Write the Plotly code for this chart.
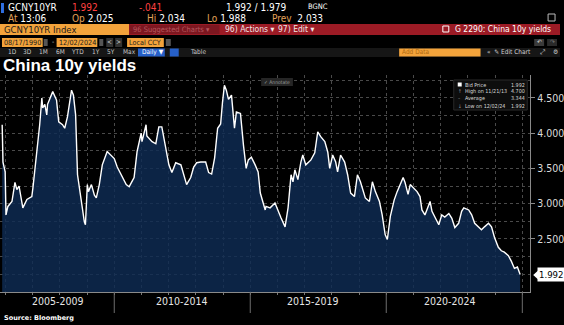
import plotly.graph_objects as go
import pandas as pd

# ---------------- data ----------------
decimal_years = [
    2005.88, 2005.91, 2005.99, 2006.02, 2006.09, 2006.24, 2006.35, 2006.42, 2006.50, 2006.61,
    2006.64, 2006.79, 2006.97, 2007.01, 2007.15, 2007.26, 2007.34, 2007.37, 2007.45, 2007.52,
    2007.55, 2007.70, 2007.74, 2007.88, 2007.96, 2008.10, 2008.18, 2008.28, 2008.36, 2008.43,
    2008.50, 2008.58, 2008.65, 2008.72, 2008.83, 2008.90, 2008.94, 2009.01, 2009.05, 2009.16,
    2009.27, 2009.34, 2009.45, 2009.56, 2009.74, 2009.89, 2010.00, 2010.11, 2010.26, 2010.44,
    2010.55, 2010.73, 2010.84, 2010.99, 2011.02, 2011.17, 2011.20, 2011.39, 2011.53, 2011.64,
    2011.75, 2011.83, 2011.90, 2012.01, 2012.12, 2012.26, 2012.45, 2012.55, 2012.66, 2012.81,
    2012.92, 2013.03, 2013.18, 2013.36, 2013.47, 2013.58, 2013.69, 2013.80, 2013.91, 2013.98,
    2014.05, 2014.12, 2014.20, 2014.31, 2014.42, 2014.49, 2014.64, 2014.75, 2014.85, 2014.93,
    2015.04, 2015.18, 2015.29, 2015.37, 2015.44, 2015.55, 2015.58, 2015.73, 2015.91, 2016.02,
    2016.13, 2016.28, 2016.39, 2016.50, 2016.57, 2016.64, 2016.75, 2016.86, 2016.93, 2017.04,
    2017.23, 2017.37, 2017.48, 2017.59, 2017.74, 2017.85, 2017.92, 2018.03, 2018.14, 2018.21,
    2018.32, 2018.47, 2018.58, 2018.69, 2018.83, 2018.94, 2019.05, 2019.23, 2019.38, 2019.49,
    2019.60, 2019.75, 2019.85, 2019.96, 2020.04, 2020.15, 2020.29, 2020.40, 2020.51, 2020.62,
    2020.69, 2020.80, 2020.88, 2021.02, 2021.13, 2021.24, 2021.31, 2021.42, 2021.61, 2021.68,
    2021.79, 2021.93, 2022.04, 2022.15, 2022.30, 2022.41, 2022.52, 2022.66, 2022.77, 2022.85,
    2023.03, 2023.14, 2023.25, 2023.39, 2023.50, 2023.61, 2023.76, 2023.87, 2023.98, 2024.12,
    2024.23, 2024.34, 2024.49, 2024.60, 2024.71, 2024.82, 2024.89, 2024.92,
]
yields = [
    4.12, 3.59, 3.45, 2.84, 2.96, 3.03, 3.30, 3.20, 3.25, 3.03,
    2.94, 3.06, 3.10, 3.22, 3.69, 4.12, 4.50, 4.36, 4.41, 4.26,
    4.41, 4.57, 4.59, 4.47, 4.16, 4.12, 4.07, 4.23, 4.44, 4.61,
    4.54, 4.26, 3.41, 3.22, 2.94, 2.74, 2.70, 3.27, 3.17, 3.27,
    3.12, 3.08, 3.27, 3.55, 3.74, 3.69, 3.64, 3.52, 3.41, 3.27,
    3.24, 3.37, 3.74, 4.00, 3.88, 4.12, 3.96, 3.88, 3.85, 4.09,
    4.09, 3.93, 3.74, 3.55, 3.44, 3.58, 3.55, 3.41, 3.27, 3.37,
    3.52, 3.58, 3.59, 3.59, 3.44, 3.42, 3.65, 4.07, 4.13, 4.44,
    4.68, 4.61, 4.48, 4.54, 4.07, 4.30, 4.28, 3.83, 3.50, 3.62,
    3.66, 3.55, 3.45, 3.15, 3.05, 2.91, 2.96, 2.94, 3.01, 2.89,
    2.80, 2.67, 2.94, 3.41, 3.31, 3.48, 3.34, 3.59, 3.69, 3.55,
    3.62, 3.72, 4.02, 3.95, 3.88, 3.73, 3.50, 3.69, 3.59, 3.45,
    3.69, 3.59, 3.41, 3.15, 3.10, 3.41, 3.31, 3.08, 3.03, 3.31,
    3.17, 3.03, 2.84, 2.56, 2.49, 2.82, 3.05, 3.17, 3.27, 3.37,
    3.30, 3.13, 3.27, 3.22, 3.17, 3.10, 2.91, 2.84, 3.03, 2.89,
    2.81, 2.70, 2.84, 2.81, 2.86, 2.79, 2.66, 2.72, 2.89, 2.94,
    2.91, 2.84, 2.72, 2.67, 2.63, 2.67, 2.72, 2.67, 2.52, 2.38,
    2.33, 2.31, 2.26, 2.18, 2.08, 2.10, 2.02, 1.992,
]

period_labels = ["2005-2009", "2010-2014", "2015-2019", "2020-2024"]
period_label_dates = ["2007-12-01", "2012-06-25", "2017-04-20", "2022-05-05"]
period_separators = ["2010-01-01", "2015-01-01", "2020-01-01", "2025-01-01"]
y_tick_vals = [2.5, 3.0, 3.5, 4.0, 4.5]

last_price = 1.992
high_label, high_value = "High on 11/21/13", 4.700
avg_value = 3.344
low_label, low_value = "Low on 12/02/24", 1.992


def dec_to_ts(y):
    yr = int(y)
    a = pd.Timestamp(year=yr, month=1, day=1)
    b = pd.Timestamp(year=yr + 1, month=1, day=1)
    return a + (b - a) * (y - yr)


dates = [dec_to_ts(v) for v in decimal_years]

W, H = 564, 325
def px(x):
    return x / W
def py(y):
    return 1 - y / H

FONT = "Liberation Sans Narrow, Arial Narrow, DejaVu Sans Condensed, Liberation Sans, Arial, sans-serif"
AMBER = "#f3a33b"
LABEL = "#e3a35a"

fig = go.Figure()
fig.add_trace(go.Scatter(
    x=dates, y=yields, mode="lines",
    line=dict(color="white", width=1.4),
    fill="tozeroy", fillcolor="rgba(15,44,84,0.82)",
    hoverinfo="skip", showlegend=False,
))

shapes = []
annotations = []

def rect(x0, y0, x1, y1, color, line=None):
    shapes.append(dict(type="rect", xref="paper", yref="paper",
                       x0=px(x0), x1=px(x1), y0=py(y1), y1=py(y0),
                       fillcolor=color, line=dict(width=1 if line else 0, color=line or color),
                       layer="above"))

def txt(x, y, s, size=10, color="white", anchor="left", bold=False, family=FONT):
    annotations.append(dict(x=px(x), y=py(y), xref="paper", yref="paper", text=(f"<b>{s}</b>" if bold else s),
                            showarrow=False, xanchor=anchor, yanchor="middle", borderpad=0,
                            font=dict(size=size, color=color, family=family)))

# ---- header row 1 ----
rect(1, 3, 4, 13, "#2f6fe0")
txt(7, 8, "GCNY10YR", 10)
txt(72, 8, "1.992", 10, "#ff4040")
txt(139, 8, "-.041", 10, "#ff4040")
txt(227, 8, "1.992 / 1.979", 10)
txt(309, 7, "BGNC", 7.5)
# ---- header row 2 ----
txt(7, 19, f"<span style='color:{LABEL}'>At</span> 13:06", 10)
txt(72, 19, f"<span style='color:{LABEL}'>Op</span> 2.025", 10)
txt(147, 19, f"<span style='color:{LABEL}'>Hi</span> 2.034", 10)
txt(207, 19, f"<span style='color:{LABEL}'>Lo</span> 1.988", 10)
txt(273, 19, f"<span style='color:{LABEL}'>Prev</span>  2.033", 10)
rect(552, 14, 559, 21, "#000000", line="#bbbbbb")
# ---- header row 3 (menu bar) ----
rect(0, 24, 130, 35, AMBER)
txt(3, 29.5, "GCNY10YR Index", 9.5, "#1a1a1a")
rect(130, 24, 564, 35, "#9c1b25")
rect(131, 25, 221, 34, "#7d1720")
txt(133, 29.5, "96 Suggested Charts ▾", 7.5, "#b5565c")
txt(226, 29.5, "96) Actions ▾", 8.5, "#f2e6e6")
txt(279, 29.5, "97) Edit ▾", 8.5, "#f2e6e6")
txt(556, 29.5, "G 2290: China 10y yields", 8.5, "white", anchor="right")
rect(446, 26, 452, 32, "#9c1b25", line="#ffffff")
# ---- header row 4 (dates) ----
rect(2, 38, 43, 47, AMBER)
txt(3, 42.5, "08/17/1990", 7.2, "#1a1a1a")
rect(44, 39, 48, 46, "#555555")
txt(51, 42.5, "-", 7, "#cccccc")
rect(57, 38, 98, 47, AMBER)
txt(58, 42.5, "12/02/2024", 7.2, "#1a1a1a")
rect(100, 39, 104, 46, "#555555")
rect(107, 38, 114, 47, "#333333")
txt(110.5, 42.5, "<", 6.5, "#dddddd", anchor="center")
rect(116, 38, 123, 47, "#333333")
txt(119.5, 42.5, ">", 6.5, "#dddddd", anchor="center")
rect(128, 38, 165, 47, AMBER)
txt(129, 42.5, "Local CCY", 7.2, "#1a1a1a")
rect(167, 39, 172, 46, "#555555")
rect(538, 39, 548, 46, "#3a3a3a")
txt(543, 42.5, "↶", 6.5, "#cccccc", anchor="center")
rect(551, 39, 561, 46, "#2a2a2a")
txt(556, 42.5, "↷", 6.5, "#777777", anchor="center")
# ---- header row 5 (buttons) ----
rect(0, 48, 564, 57, "#161616")
for lab, xx in zip(["1D", "3D", "1M", "6M", "YTD", "1Y", "5Y", "Max"],
                   [7, 22, 38, 55, 70, 92, 107, 123]):
    txt(xx, 52.5, lab, 6.5, "#c8c8c8")
rect(139, 48.5, 166, 56.5, "#2660c9")
txt(142, 52.5, "Daily ▼", 6.5, "white")
rect(171, 48.5, 180, 56.5, "#2660c9")
txt(190, 52.5, "Table", 6.5, "#c8c8c8")
rect(402, 48.5, 484, 56.5, AMBER)
txt(404, 52.5, "Add Data", 6.5, "#b06a10")
txt(489, 52.5, "«  ✎ Edit Chart", 6.5, "#d0d0d0")
txt(543, 52.5, "⤢", 6.5, "#d0d0d0")
txt(556, 52.5, "⚙", 6.5, "#d0d0d0")

# ---- title & source ----
txt(2, 66, "China 10y yields", 17, "white", bold=True, family="Liberation Sans, Arial, sans-serif")
txt(3, 318, "Source: Bloomberg", 6.5, "white", bold=True, family="DejaVu Sans, sans-serif")

# ---- Annotate button ----
rect(263, 78, 295, 86, "#262626")
txt(265, 82, "✓ Annotate", 5, "#9a9a9a")

# ---- legend box ----
rect(457, 80, 531, 110, "#0d0d0d", line="#2a2a2a")
rect(461, 82.5, 465, 86.5, "#ffffff")
leg_rows = [("Bid Price", last_price), (high_label, high_value), ("Average", avg_value), (low_label, low_value)]
for i, (lab, val) in enumerate(leg_rows):
    yy = 84.5 + i * 7
    if i > 0:
        txt(463, yy, ["", "↑", "–", "↓"][i], 5, "#9a9a9a", anchor="center")
    txt(467, yy, lab, 5.4, "#d8d8d8")
    txt(529.5, yy, f"{val:.3f}", 5.4, "#d8d8d8", anchor="right")

# ---- period separators and labels ----
for d in period_separators:
    shapes.append(dict(type="line", xref="x", yref="paper", x0=d, x1=d,
                       y0=py(292), y1=py(313), line=dict(color="#6d6d6d", width=1)))
for lab, d in zip(period_labels, period_label_dates):
    annotations.append(dict(x=d, y=py(301), xref="x", yref="paper", text=lab, showarrow=False,
                            xanchor="center", yanchor="middle",
                            font=dict(size=10.5, color="#e6e6e6", family=FONT)))

# ---- last price tag ----
shapes.append(dict(type="path", xref="paper", yref="paper",
                   path=f"M {px(537)} {py(275)} L {px(542)} {py(270.5)} L {px(542)} {py(279.5)} Z",
                   fillcolor="white", line=dict(width=0)))
annotations.append(dict(x=px(541), y=last_price, xref="paper", yref="y", text=f"{last_price:.3f}",
                        showarrow=False, xanchor="left", yanchor="middle", bgcolor="white",
                        borderpad=1, font=dict(size=9.5, color="black", family=FONT)))

fig.update_layout(
    width=W, height=H, margin=dict(l=0, r=0, t=0, b=0),
    paper_bgcolor="black", plot_bgcolor="black",
    showlegend=False, shapes=shapes, annotations=annotations,
    xaxis=dict(
        domain=[0, px(534)], type="date",
        range=["2005-10-20", "2025-04-17"],
        showticklabels=False, ticks="outside", ticklen=2, tickcolor="#777777",
        dtick="M12", tick0="2006-01-01",
        showgrid=True, gridcolor="#4a4a4a", griddash="dot", gridwidth=1,
        showline=True, linecolor="#8a8a8a", linewidth=1,
        zeroline=False, fixedrange=True,
    ),
    yaxis=dict(
        domain=[py(292), py(75)], range=[1.745, 4.826], side="right",
        tickvals=y_tick_vals, tickformat=".3f",
        ticks="outside", ticklen=4, tickcolor="#8a8a8a",
        tickfont=dict(size=10.5, color="#dcdcdc", family=FONT),
        showgrid=True, gridcolor="#4a4a4a", griddash="dot", gridwidth=1,
        minor=dict(dtick=0.25, tick0=0, showgrid=True, gridcolor="#4a4a4a", griddash="dot", ticks=""),
        showline=True, linecolor="#8a8a8a", linewidth=1,
        zeroline=False, fixedrange=True,
    ),
)

fig.write_html("out.html")
